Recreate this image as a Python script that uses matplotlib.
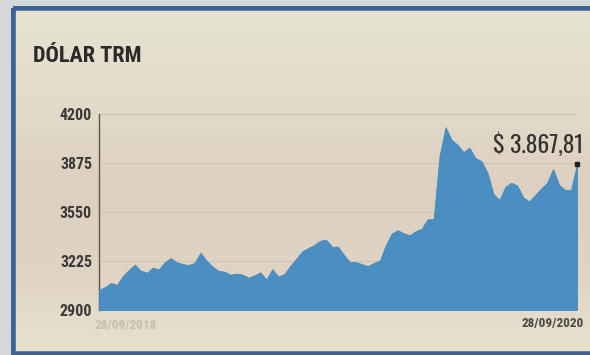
import matplotlib
matplotlib.use("Agg")
import matplotlib.pyplot as plt
import numpy as np
from matplotlib.patches import Rectangle
from matplotlib.colors import LinearSegmentedColormap

# ---- data ----
title = "DÓLAR TRM"
y_ticks = [2900, 3225, 3550, 3875, 4200]
x_labels = ["28/09/2018", "28/09/2020"]
last_label = "$ 3.867,81"
trm = [3033, 3052, 3079, 3066, 3126, 3166, 3200, 3160, 3147, 3181,
       3169, 3217, 3244, 3217, 3205, 3198, 3212, 3280, 3227, 3187,
       3160, 3154, 3134, 3141, 3135, 3114, 3129, 3150, 3102, 3170,
       3123, 3137, 3192, 3240, 3289, 3310, 3331, 3359, 3366, 3319,
       3320, 3265, 3217, 3218, 3204, 3191, 3212, 3227, 3330, 3407,
       3429, 3409, 3396, 3423, 3439, 3502, 3502, 3922, 4113, 4029,
       3996, 3947, 3976, 3908, 3887, 3811, 3671, 3630, 3716, 3744,
       3725, 3647, 3620, 3663, 3706, 3743, 3835, 3730, 3696, 3696,
       3867.81]

W, H = 590, 355
fig = plt.figure(figsize=(W / 100, H / 100), dpi=100)
fig.patch.set_facecolor("#d5d7da")

COND = ["Roboto Condensed", "DejaVu Sans"]
XCOND = ["Oswald", "Roboto Condensed", "DejaVu Sans"]

# background panel with soft vertical gradient (paper look)
bg = fig.add_axes([12 / W, 0, 1 - 12 / W, 1 - 8 / H], zorder=0)
bg.set_axis_off()
cmap = LinearSegmentedColormap.from_list(
    "paper", ["#e6e3d0", "#e3dccb", "#ddd0c1", "#dfd3c3", "#e8e2cf"])
bg.imshow(np.linspace(0, 1, 256).reshape(-1, 1), aspect="auto", cmap=cmap,
          extent=[0, 1, 0, 1], origin="upper")
bg.set_xlim(0, 1)
bg.set_ylim(0, 1)

# main chart axes
left, right = 99 / W, 577 / W
bottom, top = 1 - 310 / H, 1 - 114 / H
ax = fig.add_axes([left, bottom, right - left, top - bottom], zorder=2)
ax.patch.set_alpha(0)
x = np.arange(len(trm))
ax.fill_between(x, y_ticks[0], trm, color="#4b8ec1", linewidth=0.6,
                edgecolor="#4587bb", zorder=3)
ax.set_xlim(0, len(trm) - 1)
ax.set_ylim(y_ticks[0], y_ticks[-1])
ax.set_yticks(y_ticks)
ax.set_yticklabels([str(v) for v in y_ticks], family=COND,
                   fontsize=11.5, fontweight="bold", color="#3c3a38")
ax.tick_params(axis="y", length=0, pad=5)
ax.set_xticks([])
ax.grid(axis="y", color="#cdc3b5", linewidth=0.8, zorder=1)
ax.set_axisbelow(True)
for s in ["top", "right", "bottom"]:
    ax.spines[s].set_visible(False)
ax.spines["left"].set_color("#5a5550")
ax.spines["left"].set_linewidth(1.0)

# last value marker and label
ax.plot([x[-1]], [trm[-1]], marker="s", markersize=3.5, color="#222222",
        zorder=5, clip_on=False)
fig.text(493 / W, 1 - 145 / H, last_label, family=XCOND, fontsize=17,
         color="#353331", va="center", ha="left", zorder=3)

# title
fig.text(33 / W, 1 - 56 / H, title, family=COND, fontsize=16,
         fontweight="bold", color="#2b2a29", va="center", ha="left", zorder=3)

# x labels
fig.text(95 / W, 1 - 326 / H, x_labels[0], family=COND, fontsize=9.5,
         fontweight="bold", color="#c3c0ad", va="center", ha="left", zorder=3)
fig.text(584 / W, 1 - 324 / H, x_labels[1], family=COND, fontsize=9.5,
         fontweight="bold", color="#4a4744", va="center", ha="right", zorder=3)

# blue border frame on top
ov = fig.add_axes([0, 0, 1, 1], zorder=10)
ov.set_axis_off()
ov.patch.set_alpha(0)
ov.set_xlim(0, W)
ov.set_ylim(H, 0)
ov.add_patch(Rectangle((12.5, 7.5), 600, 346, fill=False,
                       edgecolor="#3d6394", linewidth=4.0))
ov.add_patch(Rectangle((0, 0), 10.5, H, color="#d5d7da", lw=0))
ov.add_patch(Rectangle((0, 0), W, 5.5, color="#d5d7da", lw=0))

fig.savefig("out.png", dpi=100)
